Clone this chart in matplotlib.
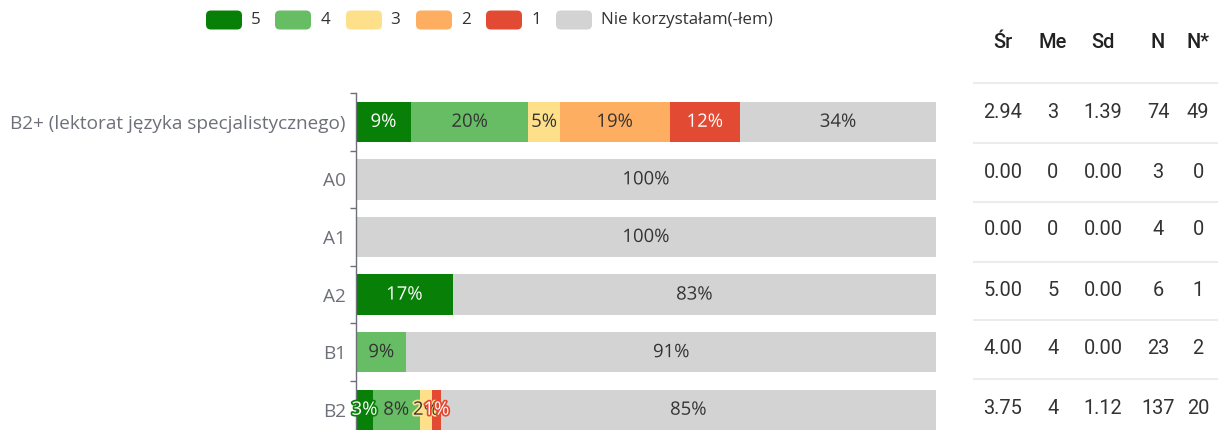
import matplotlib
matplotlib.use("Agg")
import matplotlib.pyplot as plt
import matplotlib.patheffects as pe
from matplotlib.patches import FancyBboxPatch
from matplotlib.lines import Line2D
import numpy as np

# ---- data -------------------------------------------------------------
categories = ["B2+ (lektorat języka specjalistycznego)", "A0", "A1", "A2", "B1", "B2"]
series_names = ["5", "4", "3", "2", "1", "Nie korzystałam(-łem)"]

# answer counts per category
count_5 = [7, 0, 0, 1, 0, 4]
count_4 = [15, 0, 0, 0, 2, 11]
count_3 = [4, 0, 0, 0, 0, 3]
count_2 = [14, 0, 0, 0, 0, 0]
count_1 = [9, 0, 0, 0, 0, 2]
count_none = [25, 3, 4, 5, 21, 117]

# summary statistics
stat_headers = ["Śr", "Me", "Sd", "N", "N*"]
stat_mean = [2.94, 0.00, 0.00, 5.00, 4.00, 3.75]
stat_median = [3, 0, 0, 5, 4, 4]
stat_sd = [1.39, 0.00, 0.00, 0.00, 0.00, 1.12]
stat_n = [74, 3, 4, 6, 23, 137]
stat_nstar = [49, 0, 0, 1, 2, 20]

# ---- style ------------------------------------------------------------
colors = ["#088008", "#66bd63", "#fee08b", "#fdae61", "#e34a33", "#d3d3d3"]
label_colors = ["#ffffff", "#333333", "#333333", "#333333", "#ffffff", "#333333"]
axis_gray = "#6e7079"

W, H = 1223, 430
DPI = 100
fig = plt.figure(figsize=(W / DPI, H / DPI), dpi=DPI)


def px(x, y):
    """pixel position (from top-left) -> figure fraction"""
    return x / W, 1 - y / H


def pt(px_size):
    return px_size * 72 / DPI


# ---- bar chart --------------------------------------------------------
ax_left, ax_right, ax_top, ax_bottom = 356, 936, 93, 438.5
ax = fig.add_axes([ax_left / W, 1 - ax_bottom / H,
                   (ax_right - ax_left) / W, (ax_bottom - ax_top) / H])

counts = np.array([count_5, count_4, count_3, count_2, count_1, count_none], dtype=float)
totals = counts.sum(axis=0)
shares = counts / totals * 100

y = np.arange(len(categories))
left = np.zeros(len(categories))
for i, name in enumerate(series_names):
    vals = shares[i]
    ax.barh(y, vals, left=left, height=0.7, color=colors[i],
            edgecolor="none", label=name, zorder=2)
    for yi, (v, l) in enumerate(zip(vals, left)):
        if v <= 0:
            continue
        ax.text(l + v / 2, yi, f"{round(v)}%", ha="center", va="center",
                color=label_colors[i], fontsize=pt(18.5), family="Open Sans",
                zorder=5,
                path_effects=[pe.withStroke(linewidth=2.5, foreground=colors[i])])
    left = left + vals

ax.set_xlim(0, 100)
ax.set_ylim(len(categories) - 0.5, -0.5)
for s in ["top", "right", "bottom"]:
    ax.spines[s].set_visible(False)
ax.spines["left"].set_color(axis_gray)
ax.spines["left"].set_linewidth(1)
ax.set_xticks([])
ax.set_yticks(np.arange(len(categories) + 1) - 0.5)
ax.set_yticklabels([])
ax.tick_params(axis="y", which="major", length=pt(6), width=1, color=axis_gray)
ax.set_yticks(y, minor=True)
ax.set_yticklabels(categories, minor=True)
ax.tick_params(axis="y", which="minor", length=0, pad=pt(10),
               labelsize=pt(19), labelcolor=axis_gray)
for lab in ax.get_yticklabels(minor=True):
    lab.set_family("Open Sans")

# ---- legend -----------------------------------------------------------
sw_x = [206, 275, 346, 416, 486, 556]
txt_x = [251, 321, 390, 461, 531, 601]
sw_w, sw_h, sw_y = 36, 19, 10.5
for i, name in enumerate(series_names):
    x0, y0 = px(sw_x[i], sw_y + sw_h)
    patch = FancyBboxPatch((x0, y0), sw_w / W, sw_h / H,
                           boxstyle="round,pad=0,rounding_size=0.004",
                           transform=fig.transFigure, facecolor=colors[i],
                           edgecolor="none", mutation_aspect=W / H)
    fig.patches.append(patch)
    tx, ty = px(txt_x[i], sw_y + sw_h / 2)
    fig.text(tx, ty, name, ha="left", va="center", fontsize=pt(17),
             family="Open Sans", color="#333333")

# ---- statistics table -------------------------------------------------
col_x = [1003, 1053, 1103, 1158, 1198]
header_y = 43
row_y = [112, 172, 230, 290, 348, 408]
line_y = [83, 143, 202, 262, 320, 379]

for cx, h in zip(col_x, stat_headers):
    fx, fy = px(cx, header_y)
    fig.text(fx, fy, h, ha="center", va="center", fontsize=pt(20),
             family="Roboto", weight="medium", color="#222222")

for ly in line_y:
    x0, yy = px(974, ly)
    x1, _ = px(1217, ly)
    fig.add_artist(Line2D([x0, x1], [yy, yy], transform=fig.transFigure,
                          color="#ececec", linewidth=1.5))

for r in range(len(categories)):
    cells = [f"{stat_mean[r]:.2f}", f"{stat_median[r]}", f"{stat_sd[r]:.2f}",
             f"{stat_n[r]}", f"{stat_nstar[r]}"]
    for cx, c in zip(col_x, cells):
        fx, fy = px(cx, row_y[r])
        fig.text(fx, fy, c, ha="center", va="center", fontsize=pt(20),
                 family="Roboto", color="#333333")

fig.savefig("out.png", dpi=DPI)
